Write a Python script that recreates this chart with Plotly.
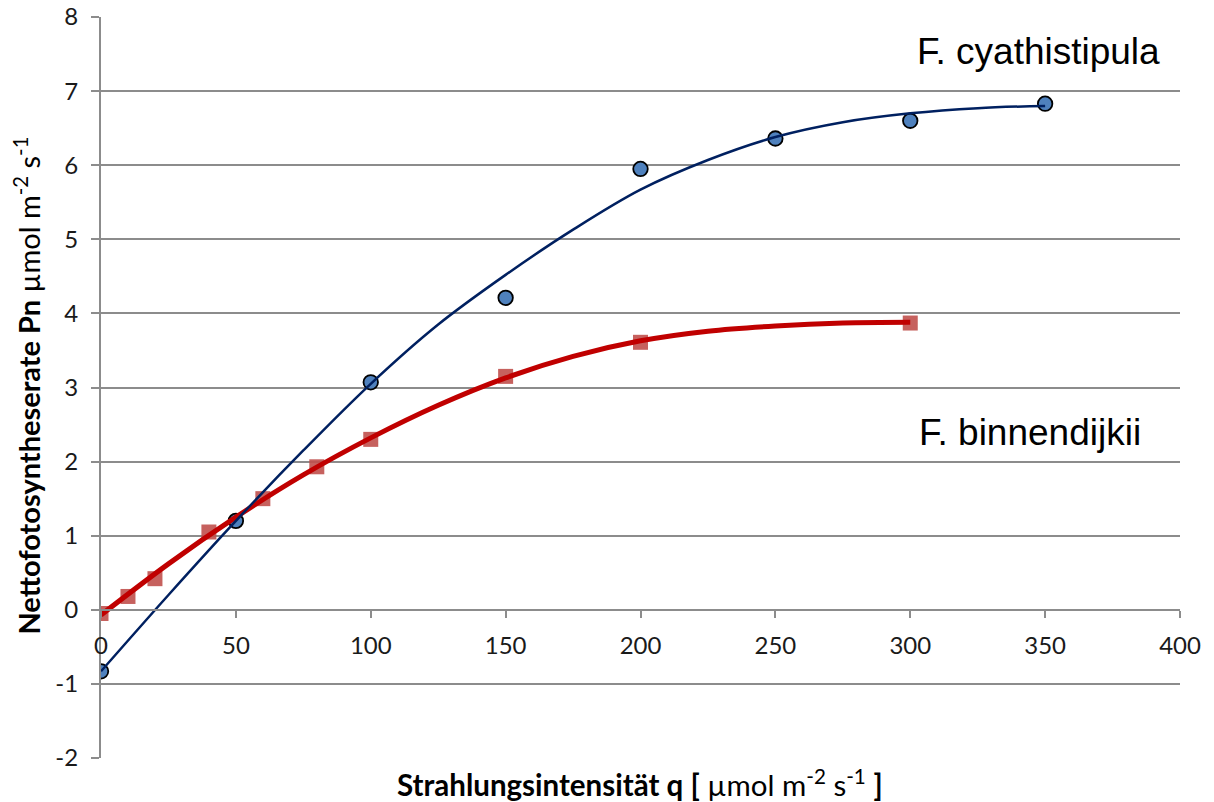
import plotly.graph_objects as go

# Measured data
x_cyath = [0, 50, 100, 150, 200, 250, 300, 350]
y_cyath = [-0.83, 1.2, 3.07, 4.21, 5.95, 6.36, 6.6, 6.83]

x_binn = [0, 10, 20, 40, 60, 80, 100, 150, 200, 300]
y_binn = [-0.05, 0.18, 0.42, 1.05, 1.5, 1.93, 2.3, 3.15, 3.61, 3.87]

# Trend curves
trend_x_cyath = [0, 25, 50, 75, 100, 125, 150, 175, 200, 225, 250, 275, 300, 325, 350]
trend_y_cyath = [-0.83, 0.2, 1.2, 2.15, 3.05, 3.85, 4.52, 5.13, 5.67, 6.07, 6.38, 6.58, 6.7, 6.77, 6.8]

trend_x_binn = [0, 25, 50, 75, 100, 125, 150, 175, 200, 225, 250, 275, 300]
trend_y_binn = [-0.07, 0.62, 1.25, 1.82, 2.32, 2.76, 3.13, 3.42, 3.63, 3.76, 3.83, 3.87, 3.88]

x_ticks = [0, 50, 100, 150, 200, 250, 300, 350, 400]
y_ticks = [-2, -1, 0, 1, 2, 3, 4, 5, 6, 7, 8]

label_cyath = "F. cyathistipula"
label_binn = "F. binnendijkii"

GRID = "#8c8c8c"

fig = go.Figure()

fig.add_trace(go.Scatter(
    x=x_binn, y=y_binn, mode="markers",
    marker=dict(symbol="square", size=15, color="rgba(192,80,77,0.9)", line=dict(width=0)),
    showlegend=False))
fig.add_trace(go.Scatter(
    x=x_cyath, y=y_cyath, mode="markers",
    marker=dict(symbol="circle", size=14.5, color="#4F81BD", line=dict(width=1.8, color="black")),
    showlegend=False))
fig.add_trace(go.Scatter(
    x=trend_x_binn, y=trend_y_binn, mode="lines",
    line=dict(color="#C00000", width=5, shape="spline", smoothing=1.0),
    showlegend=False))
fig.add_trace(go.Scatter(
    x=trend_x_cyath, y=trend_y_cyath, mode="lines",
    line=dict(color="#002060", width=2.5, shape="spline", smoothing=1.0),
    showlegend=False))

fig.update_layout(
    width=1214, height=802,
    margin=dict(l=101, r=34, t=17, b=44),
    paper_bgcolor="white", plot_bgcolor="white",
    font=dict(family="Lato, sans-serif", size=24, color="#1a1a1a"),
    xaxis=dict(
        range=[0, 400], tickvals=x_ticks, ticktext=[str(v) for v in x_ticks],
        anchor="free", position=0.2, automargin=False,
        showline=True, linecolor=GRID, linewidth=2,
        ticks="outside", ticklen=7, tickwidth=2, tickcolor=GRID,
        ticklabelstandoff=7,
        showgrid=False, zeroline=False,
        tickfont=dict(family="Lato, sans-serif", size=24, color="#1a1a1a"),
    ),
    yaxis=dict(
        range=[-2, 8], tickvals=y_ticks, ticktext=[str(v) for v in y_ticks],
        automargin=False,
        showline=True, linecolor=GRID, linewidth=2,
        ticks="outside", ticklen=8, tickwidth=2, tickcolor=GRID,
        ticklabelstandoff=8,
        showgrid=True, gridcolor=GRID, gridwidth=2, zeroline=False,
        tickfont=dict(family="Lato, sans-serif", size=24, color="#1a1a1a"),
    ),
)

fig.add_annotation(
    x=-0.069, y=0.502, xref="paper", yref="paper", textangle=-90,
    showarrow=False, xanchor="center", yanchor="middle",
    text="<b>Nettofotosyntheserate Pn</b> µmol m<sup>-2</sup> s<sup>-1</sup>",
    font=dict(family="Lato, sans-serif", size=29, color="black"))

fig.add_annotation(
    x=0.4995, y=-0.034, xref="paper", yref="paper",
    showarrow=False, xanchor="center", yanchor="middle",
    text="<b>Strahlungsintensität q [</b> µmol m<sup>-2</sup> s<sup>-1</sup> <b>]</b>",
    font=dict(family="Lato, sans-serif", size=29.5, color="black"))

fig.add_annotation(
    x=347.4, y=7.53, xref="x", yref="y", showarrow=False,
    xanchor="center", yanchor="middle", text=label_cyath,
    font=dict(family="Liberation Sans, Arial, sans-serif", size=37, color="black"))
fig.add_annotation(
    x=344.4, y=2.39, xref="x", yref="y", showarrow=False,
    xanchor="center", yanchor="middle", text=label_binn,
    font=dict(family="Liberation Sans, Arial, sans-serif", size=37, color="black"))

fig.write_html("out.html")
